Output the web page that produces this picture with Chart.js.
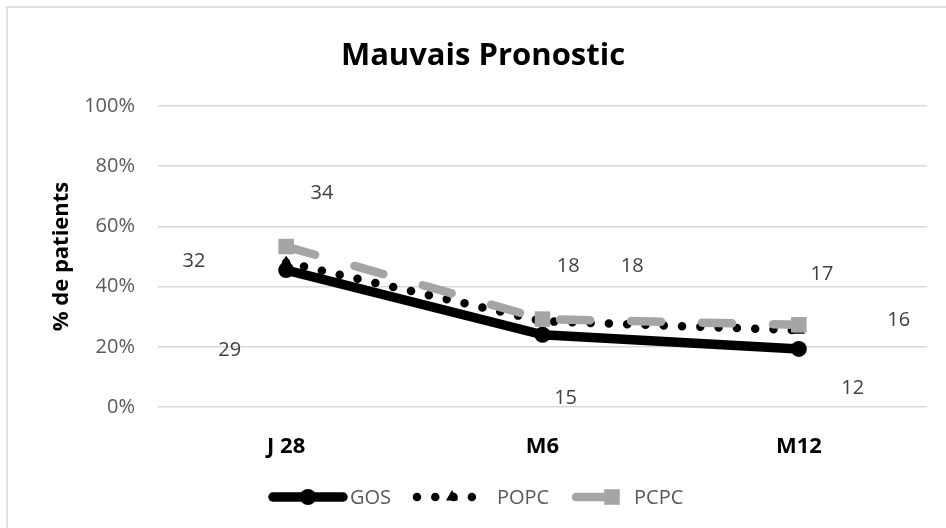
<!DOCTYPE html>
<html>
<head>
<meta charset="utf-8">
<script src="https://cdn.jsdelivr.net/npm/chart.js@4/dist/chart.umd.min.js"></script>
<style>
  html, body { margin: 0; padding: 0; background: #fff; }
  #wrap { width: 946px; height: 528px; }
</style>
</head>
<body>
<div id="wrap"><canvas id="c" width="946" height="528"></canvas></div>
<script>
// ---- data ----
const categories = ['J 28', 'M6', 'M12'];
const seriesNames = ['GOS', 'POPC', 'PCPC'];
const gosValues = [45.5, 24, 19.3];
const popcValues = [48, 28.5, 25.5];
const pcpcValues = [53.3, 29.2, 27.3];
const yTickValues = [0, 20, 40, 60, 80, 100];
const chartTitle = 'Mauvais Pronostic';
const yAxisTitle = '% de patients';
// free-floating number labels (category position, % position)
const noteTexts = ['32', '34', '29', '18', '18', '15', '17', '16', '12'];
const noteCat = [-0.36, 0.14, -0.22, 1.10, 1.35, 1.09, 2.09, 2.39, 2.21];
const notePct = [48.3, 71, 19, 46.7, 46.7, 3, 44, 28.7, 6.3];

const FONT = "'Open Sans', 'Liberation Sans', sans-serif";

function drawMarker(ctx, style, x, y, r, color) {
  ctx.save();
  ctx.fillStyle = color;
  ctx.beginPath();
  if (style === 'circle') {
    ctx.arc(x, y, r, 0, Math.PI * 2);
  } else if (style === 'triangle') {
    let a = 0;
    for (let i = 0; i < 3; i++) {
      const px = x + Math.sin(a) * r, py = y - Math.cos(a) * r;
      if (i === 0) ctx.moveTo(px, py); else ctx.lineTo(px, py);
      a += Math.PI * 2 / 3;
    }
    ctx.closePath();
  } else {
    const s = r * Math.SQRT1_2;
    ctx.rect(x - s, y - s, 2 * s, 2 * s);
  }
  ctx.fill();
  ctx.restore();
}

const extras = {
  id: 'extras',
  beforeDraw(chart) {
    const ctx = chart.ctx;
    ctx.save();
    ctx.fillStyle = '#fff';
    ctx.fillRect(0, 0, chart.width, chart.height);
    ctx.strokeStyle = '#D9D9D9';
    ctx.lineWidth = 1.5;
    ctx.beginPath();
    ctx.moveTo(7, chart.height + 2);
    ctx.lineTo(7, 7);
    ctx.lineTo(chart.width + 2, 7);
    ctx.stroke();
    ctx.restore();
  },
  afterDraw(chart) {
    const ctx = chart.ctx;
    const xs = chart.scales.x, ys = chart.scales.y;
    ctx.save();
    // title
    ctx.fillStyle = '#000';
    ctx.font = "bold 31px " + FONT;
    ctx.textAlign = 'center';
    ctx.textBaseline = 'middle';
    ctx.fillText(chartTitle, 483, 56);
    // notes
    ctx.fillStyle = '#404040';
    ctx.font = "20px " + FONT;
    for (let i = 0; i < noteTexts.length; i++) {
      ctx.fillText(noteTexts[i], xs.getPixelForValue(noteCat[i]), ys.getPixelForValue(notePct[i]));
    }
    // legend
    const items = [
      { x0: 273, x1: 343, mx: 308, tx: 350 },
      { x0: 417, x1: 488, mx: 452, tx: 497 },
      { x0: 576, x1: 626, mx: 612, tx: 634 }
    ];
    const ly = 497;
    ctx.textAlign = 'left';
    ctx.font = "20px " + FONT;
    chart.data.datasets.forEach((ds, i) => {
      const it = items[i];
      ctx.save();
      ctx.strokeStyle = ds.borderColor;
      ctx.lineWidth = ds.borderWidth;
      ctx.lineCap = 'round';
      ctx.setLineDash(ds.borderDash || []);
      ctx.beginPath();
      ctx.moveTo(it.x0, ly);
      ctx.lineTo(it.x1, ly);
      ctx.stroke();
      ctx.restore();
      drawMarker(ctx, ds.pointStyle, it.mx, ly, ds.pointRadius, ds.pointBackgroundColor);
      ctx.fillStyle = '#595959';
      ctx.fillText(ds.label, it.tx, ly + 1);
    });
    ctx.restore();
  }
};

new Chart(document.getElementById('c'), {
  type: 'line',
  data: {
    labels: categories,
    datasets: [
      {
        label: seriesNames[0], data: gosValues, order: 3,
        borderColor: '#000000', borderWidth: 9.5, borderCapStyle: 'round', borderJoinStyle: 'round',
        pointStyle: 'circle', pointRadius: 8, pointBackgroundColor: '#000000',
        pointBorderColor: '#000000', pointBorderWidth: 0, tension: 0
      },
      {
        label: seriesNames[1], data: popcValues, order: 2,
        borderColor: '#000000', borderWidth: 8.5, borderDash: [0, 18.3], borderCapStyle: 'round',
        pointStyle: 'triangle', pointRadius: 7, pointBackgroundColor: '#000000',
        pointBorderColor: '#000000', pointBorderWidth: 0, tension: 0
      },
      {
        label: seriesNames[2], data: pcpcValues, order: 1,
        borderColor: '#A5A5A5', borderWidth: 8.5, borderDash: [30, 41], borderCapStyle: 'round',
        pointStyle: 'rect', pointRadius: 11, pointBackgroundColor: '#A5A5A5',
        pointBorderColor: '#A5A5A5', pointBorderWidth: 0, tension: 0
      }
    ]
  },
  options: {
    responsive: false,
    animation: false,
    events: [],
    layout: { padding: { left: 0, right: 19, top: 106, bottom: 0 } },
    plugins: {
      legend: { display: false },
      title: { display: false },
      tooltip: { enabled: false }
    },
    scales: {
      x: {
        offset: true,
        grid: { display: false, drawTicks: false },
        border: { display: false },
        ticks: { color: '#000', font: { family: FONT, size: 22, weight: 'bold' }, padding: 27 },
        afterFit(s) { s.height = 121; }
      },
      y: {
        min: 0, max: 100,
        afterBuildTicks(s) { s.ticks = yTickValues.map(v => ({ value: v })); },
        grid: { color: '#D9D9D9', lineWidth: 1.5, drawTicks: false },
        border: { display: false },
        ticks: { color: '#595959', font: { family: FONT, size: 20 }, padding: 23, callback: v => v + '%' },
        title: { display: true, text: yAxisTitle, color: '#000', font: { family: FONT, size: 22, weight: 'bold' }, padding: { top: 49, bottom: 0 } },
        afterFit(s) { s.width = 158; }
      }
    }
  },
  plugins: [extras]
});
</script>
</body>
</html>
